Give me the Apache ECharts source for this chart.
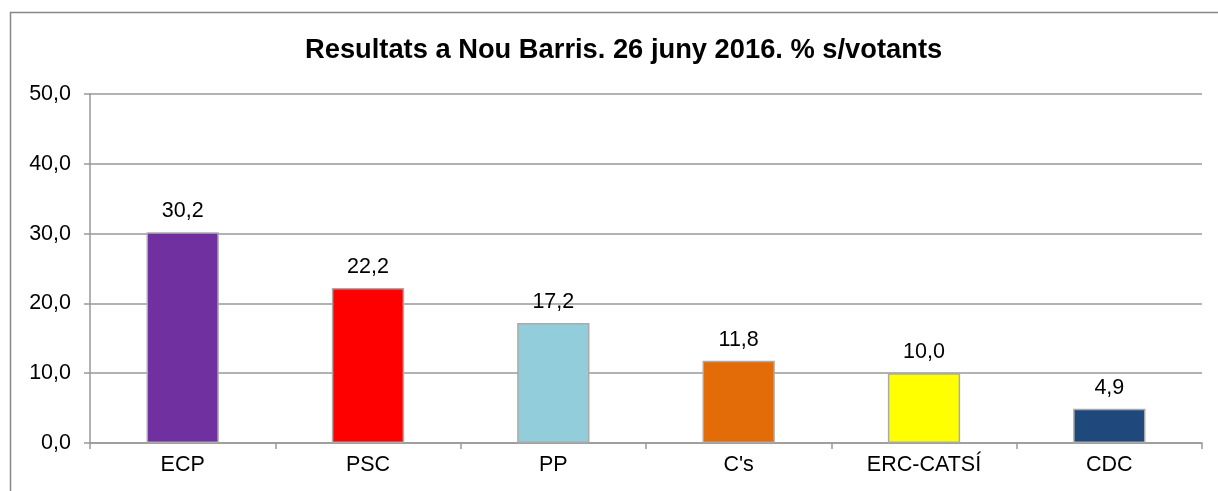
<!DOCTYPE html>
<html>
<head>
<meta charset="utf-8">
<script src="https://cdn.jsdelivr.net/npm/echarts@6/dist/echarts.min.js"></script>
<style>
  html, body { margin: 0; padding: 0; background: #fff; }
  #chart { width: 1218px; height: 491px; }
</style>
</head>
<body>
<div id="chart"></div>
<script>
var categories = ['ECP', 'PSC', 'PP', "C's", 'ERC-CATSÍ', 'CDC'];
var values = [30.2, 22.2, 17.2, 11.8, 10.0, 4.9];
var colors = ['#7030A0', '#FF0000', '#92CDDC', '#E36C09', '#FFFF00', '#1F497D'];

var fmt = function (v) { return v.toFixed(1).replace('.', ','); };
var font = '"Liberation Sans", Arial, sans-serif';

var myChart = echarts.init(document.getElementById('chart'));

var option = {
  animation: false,
  textStyle: { fontFamily: font },
  title: {
    text: 'Resultats a Nou Barris. 26 juny 2016. % s/votants',
    left: 300,
    top: 32,
    textStyle: { fontSize: 27.3, fontWeight: 'bold', color: '#000', fontFamily: font }
  },
  graphic: [{
    type: 'rect',
    shape: { x: 10.5, y: 12.5, width: 1230, height: 500 },
    style: { fill: 'none', stroke: '#888', lineWidth: 1.5 }
  }],
  grid: { left: 90, right: 16, top: 94, bottom: 48 },
  xAxis: {
    type: 'category',
    data: categories,
    axisLine: { lineStyle: { color: '#999', width: 1.5 } },
    axisTick: { show: true, alignWithLabel: false, length: 6, lineStyle: { color: '#999', width: 1.5 } },
    axisLabel: { color: '#000', fontSize: 21.5, margin: 11, fontFamily: font }
  },
  yAxis: {
    type: 'value',
    min: 0,
    max: 50,
    interval: 10,
    axisLine: { show: true, lineStyle: { color: '#999', width: 1.5 } },
    axisTick: { show: true, length: 6, lineStyle: { color: '#999', width: 1.5 } },
    splitLine: { lineStyle: { color: '#999', width: 1.5 } },
    axisLabel: { color: '#000', fontSize: 21.5, margin: 19, formatter: fmt, fontFamily: font }
  },
  series: [{
    type: 'bar',
    barWidth: '39%',
    data: values.map(function (v, i) {
      return { value: v, itemStyle: { color: colors[i] } };
    }),
    itemStyle: { borderColor: '#aaa', borderWidth: 1.5 },
    label: {
      show: true,
      position: 'top',
      distance: 10,
      color: '#000',
      fontSize: 21.5,
      fontFamily: font,
      formatter: function (p) { return fmt(p.value); }
    }
  }]
};

myChart.setOption(option);
</script>
</body>
</html>
